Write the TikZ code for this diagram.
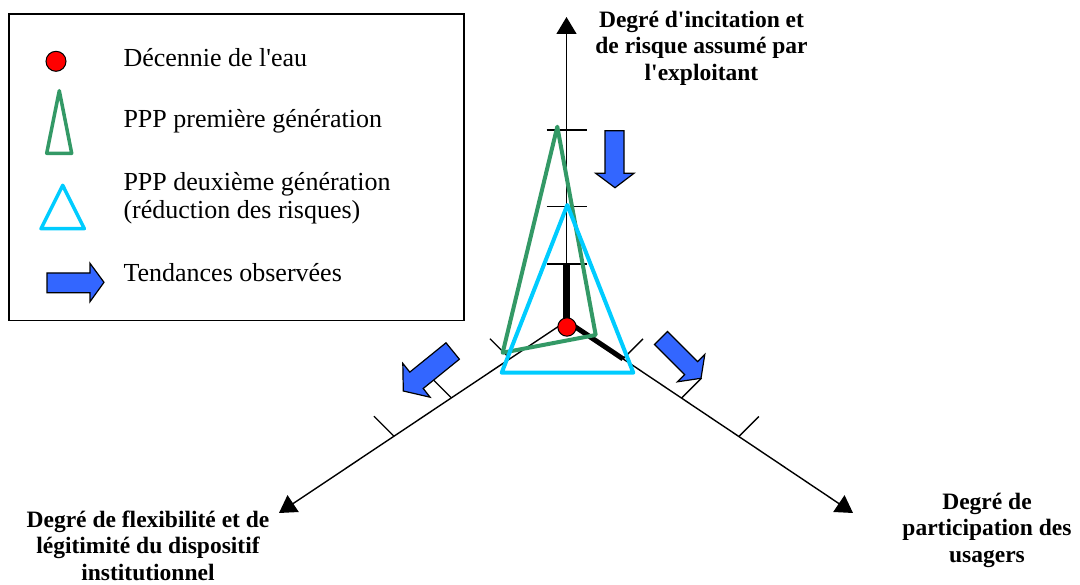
\documentclass[tikz,border=0pt]{standalone}
\usepackage{fontspec}
\setmainfont{Liberation Serif}
\usetikzlibrary{arrows.meta,calc}
\definecolor{ppgreen}{RGB}{51,153,102}
\definecolor{ppcyan}{RGB}{0,204,255}
\definecolor{trendblue}{RGB}{51,102,255}
\newcommand\sq{\textquotesingle}
\tikzset{
  axisline/.style={line width=1.4pt, -{Triangle[width=20pt,length=17pt]}},
  tickline/.style={line width=1.3pt},
  thickseg/.style={line width=6.5pt, line cap=butt},
  gen1/.style={draw=ppgreen, line width=4pt, line join=round},
  gen2/.style={draw=ppcyan, line width=4pt, line join=round},
  trend/.style={fill=trendblue, draw=black, line width=1.2pt, line join=miter},
  dotmark/.style={circle, fill=red, draw=black, line width=1pt, inner sep=0pt},
  legendtext/.style={font=\fontsize{26}{28.5}\selectfont, inner sep=0pt, align=left},
  axislabel/.style={font=\fontsize{23.5}{26.5}\selectfont\bfseries, inner sep=0pt, align=center},
}
\begin{document}
\begin{tikzpicture}[x=1pt, y=-1pt]
\useasboundingbox (0,0) rectangle (1080,585);

% ---- legend ----
\draw[line width=1.3pt] (9,14) rectangle (464,320.5);
\node[dotmark, minimum size=20pt] (legdot) at (56,61.3) {};
\draw[gen1, line width=3.5pt] (59.3,90.7) -- (46.7,153.3) -- (71.7,153.3) -- cycle;
\draw[gen2, line width=3.5pt] (62.7,185.3) -- (41,228.7) -- (84.3,228.7) -- cycle;
\draw[trend] (47,273) -- (90,273) -- (90,263.3) -- (104,282.3) -- (90,301.7) -- (90,292.7) -- (47,292.7) -- cycle;
\node[legendtext, anchor=base west] (legA) at (123.3,66.7) {Décennie de l\sq eau};
\node[legendtext, anchor=base west] (legB) at (123.3,127.7) {PPP première génération};
\node[legendtext, anchor=north west] (legC) at (123.3,172.2) {PPP deuxième génération\\(réduction des risques)};
\node[legendtext, anchor=base west] (legD) at (123.3,281.7) {Tendances observées};

% ---- axes ----
\coordinate (O) at (566.5,321);
\coordinate (topTip) at (566.5,17);
\coordinate (leftTip) at (279,513);
\coordinate (rightTip) at (853,513);
\draw[axisline] (O) -- (topTip);
\draw[axisline] (O) -- (leftTip);
\draw[axisline] (O) -- (rightTip);

% graduations on the vertical axis
\foreach \yy in {130,206.7,264}
  \draw[tickline] (546.5,\yy) -- (586.5,\yy);
% graduations on the oblique axes
\foreach \dd in {68,138.5,207.5}{
  \draw[tickline] ($(O)!\dd pt!(leftTip)$) -- ++(-20,-20);
  \draw[tickline] ($(O)!\dd pt!(rightTip)$) -- ++(20,-20);
}

% thick segments from the origin
\draw[thickseg] (O) -- (566.5,264);
\draw[thickseg, line width=5pt] (O) -- ($(O)!68pt!(rightTip)$);

% ---- trends ----
\draw[trend] (605,130.7) -- (624,130.7) -- (624,173.3) -- (634,173.3) -- (615,187.7) -- (595.7,173.3) -- (605,173.3) -- cycle;
\draw[trend] (446,342.8) -- (459.4,359.2) -- (423.2,388.5) -- (430.1,397.2) -- (403.3,391) -- (402.8,363.4) -- (409.8,372.1) -- cycle;
\draw[trend] (667.5,331.5) -- (697.6,361.6) -- (704.8,354.4) -- (701,378.3) -- (677.4,381.8) -- (684.6,374.6) -- (654.5,344.5) -- cycle;

% ---- generations ----
\draw[gen1] (557.3,126.7) -- (502.7,352.7) -- (595.7,335) -- cycle;
\draw[gen2] (567.3,205) -- (501.7,372.7) -- (633.3,372.7) -- cycle;
\node[dotmark, minimum size=18.4pt] (dec) at (567,327) {};

% ---- axis labels ----
\node[axislabel, anchor=north] (labTop) at (701.5,10.5) {Degré d\sq incitation et\\de risque assumé par\\l\sq exploitant};
\node[axislabel, anchor=north] (labLeft) at (148,510.5) {Degré de flexibilité et de\\légitimité du dispositif\\institutionnel};
\node[axislabel, anchor=north] (labRight) at (987,492.5) {Degré de\\participation des\\usagers};
\end{tikzpicture}
\end{document}
